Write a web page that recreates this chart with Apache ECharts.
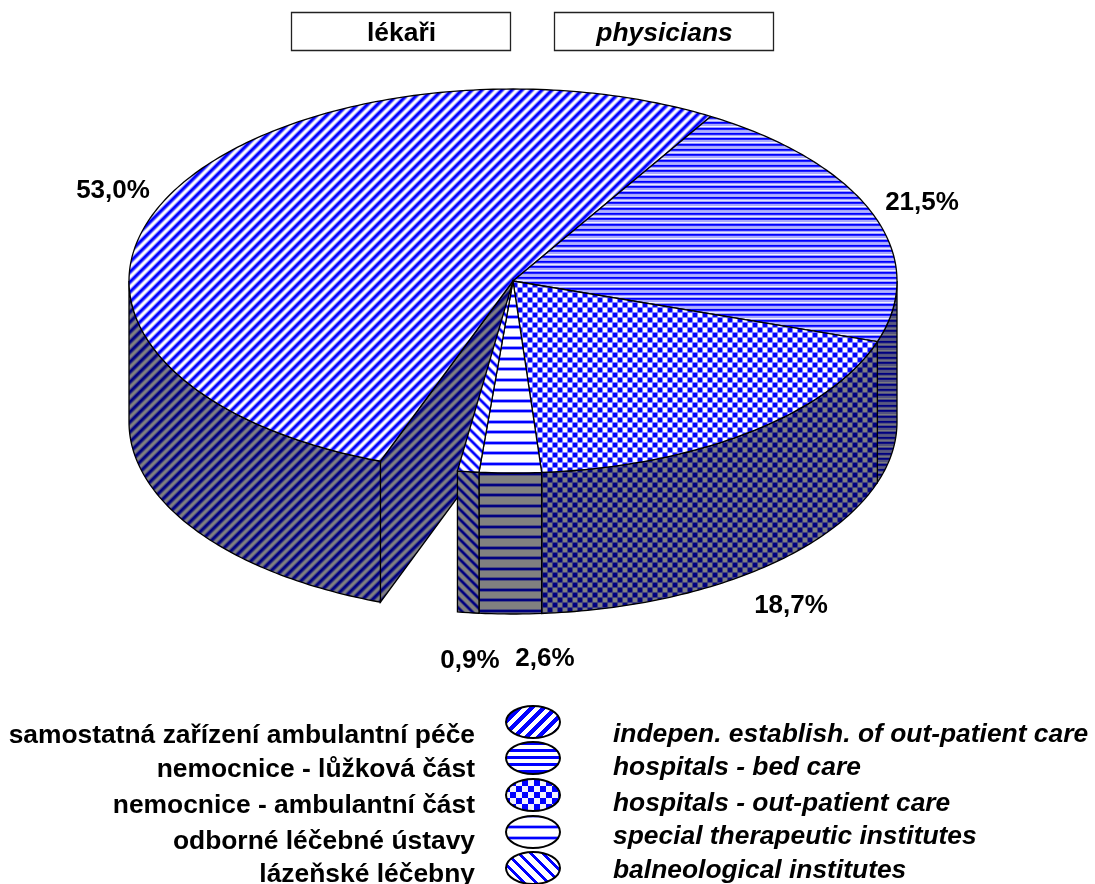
<!DOCTYPE html>
<html><head><meta charset="utf-8">
<style>html,body{margin:0;padding:0;background:#fff}#c{width:1095px;height:884px}</style>
<script src="https://cdn.jsdelivr.net/npm/echarts@6/dist/echarts.min.js"></script>
</head><body><div id="c"></div>
<script>
// ---- data ----
const legendCs = ['samostatná zařízení ambulantní péče','nemocnice - lůžková část','nemocnice - ambulantní část','odborné léčebné ústavy','lázeňské léčebny'];
const legendEn = ['indepen. establish. of out-patient care','hospitals - bed care','hospitals - out-patient care','special therapeutic institutes','balneological institutes'];
const shares = [53.0, 21.5, 18.7, 2.6, 0.9];
const unlabelledGap = [3.3];
const titleCs = 'lékaři';
const titleEn = 'physicians';

// ---- layout ----
const FONT = '"Liberation Sans", Arial, sans-serif';
const PIE = {cx: 513, cy: 281, rx: 384, ry: 192, depth: 141, start: 200.2};
const valueLabelPos = [[113,191],[922,203],[791,606],[545,659],[470,661]];
const keyY = [722,758,795,832,868];
const csY = [736,770,806,842,875];
const enY = [735,768,804,837,871];

// ---- patterns ----
const TOP = {fg:[0,0,255], bg:[255,255,255]};
const WALL = {fg:[0,0,128], bg:[128,128,128]};
function tile(w,h,fn,pal){
  const c=document.createElement('canvas');c.width=w;c.height=h;
  const g=c.getContext('2d');
  for(let y=0;y<h;y++)for(let x=0;x<w;x++){
    const t=fn(x,y);
    const m=pal.fg.map((f,i)=>Math.round(pal.bg[i]*(1-t)+f*t));
    g.fillStyle='rgb('+m.join(',')+')';g.fillRect(x,y,1,1);
  }
  return {image:c,repeat:'repeat'};
}
const diagRamp=[1,1,.9,.65,.3,.05,0,.05,.3,.65];
const downRamp=[1,1,.7,.25,0,0,0,0,.25,.7];
const bedRows=[1,.85,.35,.3,.35,1,.85,.35,.1,.35,1,.85,.35,.35,.05,.4];
const thinRows=[.4,1,1,.4,0,0,0,0,0,0,.4,1,1,.4,0,0,0,0,0,0,0];
const fine=[
  [10,10,(x,y)=>diagRamp[(x+y)%10]],
  [1,16,(x,y)=>bedRows[y]],
  [10,10,(x,y)=>{const s=Math.cos(Math.PI*(x+.5)/5)*Math.cos(Math.PI*(y+.5)/5);return Math.max(0,Math.min(1,.5+1.3*s));}],
  [1,21,(x,y)=>thinRows[y]],
  [10,10,(x,y)=>downRamp[(x-y+100)%10]]
];
const coarse=[
  [12,12,(x,y)=>((x+y)%12<6?1:0)],
  [1,7,(x,y)=>(y<3?1:0)],
  [12,12,(x,y)=>((x%12<6)!==(y%12<6)?1:.05)],
  [1,11,(x,y)=>[.35,1,1,.35,0,0,0,0,0,0,0][y]],
  [12,12,(x,y)=>((x-y+120)%12<4?1:0)]
];
const topFill=fine.map(p=>tile(p[0],p[1],p[2],TOP));
const wallFill=fine.map(p=>tile(p[0],p[1],p[2],WALL));
const keyFill=coarse.map(p=>tile(p[0],p[1],p[2],TOP));

// ---- geometry from values ----
const allSlices=shares.concat(unlabelledGap);
const total=allSlices.reduce((a,b)=>a+b,0);
const bounds=[];
{let a=PIE.start;for(const v of allSlices){bounds.push([a,a+v/total*360]);a+=v/total*360;}}
const pt=(deg,dy)=>{const r=deg*Math.PI/180;return [PIE.cx+PIE.rx*Math.sin(r),PIE.cy-PIE.ry*Math.cos(r)+(dy||0)];};
function arc(a,b,dy){const n=Math.max(2,Math.ceil(Math.abs(b-a)));const o=[];for(let i=0;i<=n;i++)o.push(pt(a+(b-a)*i/n,dy));return o;}
const lineStyle={stroke:'#000',lineWidth:1.3};

function renderWall(params,api){
  const i=params.dataIndex;api.value(0);
  const [a,b]=bounds[i];const kids=[];
  if(i===0){
    const e=pt(a),f=pt(a,PIE.depth);
    kids.push({type:'polygon',shape:{points:[[PIE.cx,PIE.cy],e,f,[PIE.cx,PIE.cy+PIE.depth]]},style:Object.assign({fill:wallFill[0]},lineStyle)});
  }
  [[90,270],[450,630]].forEach(w=>{
    const s=Math.max(a,w[0]),t=Math.min(b,w[1]);
    if(s<t){
      const pts=arc(s,t,0).concat(arc(t,s,PIE.depth));
      kids.push({type:'polygon',shape:{points:pts},style:Object.assign({fill:wallFill[i]},lineStyle)});
    }
  });
  return {type:'group',children:kids};
}
function renderTop(params,api){
  const i=params.dataIndex;
  const [a,b]=bounds[i];
  const pts=[[PIE.cx,PIE.cy]].concat(arc(a,b,0));
  const lp=valueLabelPos[i];
  return {type:'group',children:[
    {type:'polygon',shape:{points:pts},style:Object.assign({fill:topFill[i]},lineStyle)},
    {type:'text',style:{x:lp[0],y:lp[1],text:api.value(0).toFixed(1).replace('.',',')+'%',font:'bold 26px '+FONT,fill:'#000',align:'center',verticalAlign:'middle'}}
  ]};
}
function renderKey(params,api){
  const i=api.value(0);
  return {type:'group',children:[
    {type:'ellipse',shape:{cx:533,cy:keyY[i],rx:27,ry:16},style:{fill:keyFill[i],stroke:'#000',lineWidth:2}},
    {type:'text',style:{x:475,y:csY[i],text:legendCs[i],font:'bold 26.4px '+FONT,fill:'#000',align:'right',verticalAlign:'middle'}},
    {type:'text',style:{x:613,y:enY[i],text:legendEn[i],font:'italic bold 26.4px '+FONT,fill:'#000',align:'left',verticalAlign:'middle'}}
  ]};
}
const box=(x,text,italic)=>({type:'group',children:[
  {type:'rect',shape:{x:x,y:12.5,width:219,height:38},style:{fill:'#fff',stroke:'#222',lineWidth:1.3}},
  {type:'text',style:{x:x+110,y:34,text:text,font:(italic?'italic ':'')+'bold 26.4px '+FONT,fill:'#000',align:'center',verticalAlign:'middle'}}
]});
const chart=echarts.init(document.getElementById('c'),null,{renderer:'canvas',width:1095,height:884});
chart.setOption({
  backgroundColor:'#fff',animation:false,
  graphic:[box(291.5,titleCs,false),box(554.5,titleEn,true)],
  series:[
    {type:'custom',coordinateSystem:'none',silent:true,renderItem:renderWall,data:shares.map(v=>[v])},
    {type:'custom',coordinateSystem:'none',silent:true,renderItem:renderTop,data:shares.map(v=>[v])},
    {type:'custom',coordinateSystem:'none',silent:true,renderItem:renderKey,data:legendCs.map((n,i)=>[i])}
  ]
});
</script></body></html>
